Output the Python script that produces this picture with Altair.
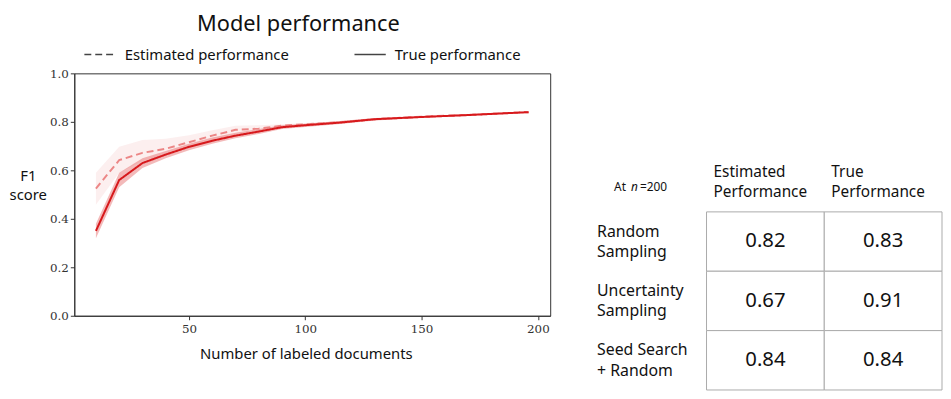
import altair as alt
import pandas as pd

# ---- line chart data ----
n_docs = [10, 20, 30, 40, 50, 60, 70, 80, 90, 100, 115, 130, 150, 170, 196]
true_mean = [0.35, 0.56, 0.63, 0.665, 0.697, 0.722, 0.743, 0.760, 0.778, 0.786, 0.797, 0.811, 0.820, 0.828, 0.840]
true_lo = [0.32, 0.53, 0.61, 0.650, 0.683, 0.710, 0.732, 0.750, 0.770, 0.779, 0.791, 0.806, 0.816, 0.825, 0.837]
true_hi = [0.38, 0.59, 0.65, 0.680, 0.710, 0.735, 0.755, 0.770, 0.786, 0.792, 0.803, 0.816, 0.824, 0.831, 0.843]
est_mean = [0.525, 0.642, 0.672, 0.689, 0.716, 0.743, 0.767, 0.772, 0.784, 0.790, 0.798, 0.811, 0.821, 0.829, 0.840]
est_lo = [0.458, 0.590, 0.640, 0.665, 0.695, 0.725, 0.745, 0.760, 0.777, 0.784, 0.793, 0.807, 0.818, 0.826, 0.838]
est_hi = [0.590, 0.697, 0.725, 0.730, 0.745, 0.765, 0.784, 0.786, 0.790, 0.795, 0.803, 0.815, 0.824, 0.832, 0.842]
series_names = ["Estimated performance", "True performance"]
y_ticks = [0.0, 0.2, 0.4, 0.6, 0.8, 1.0]
x_ticks = [50, 100, 150, 200]

# ---- table data ----
row_labels = ["Random\nSampling", "Uncertainty\nSampling", "Seed Search\n+ Random"]
col_labels = ["Estimated\nPerformance", "True\nPerformance"]
est_at_200 = [0.82, 0.67, 0.84]
true_at_200 = [0.83, 0.91, 0.84]

SANS = "Noto Sans"
SERIF = "DejaVu Serif"
RED = "#d7191c"

band_df = pd.DataFrame({"n": n_docs, "true_lo": true_lo, "true_hi": true_hi,
                        "est_lo": est_lo, "est_hi": est_hi})
line_df = pd.concat([
    pd.DataFrame({"n": n_docs, "score": est_mean, "series": series_names[0]}),
    pd.DataFrame({"n": n_docs, "score": true_mean, "series": series_names[1]}),
])

x_enc = alt.X("n:Q", scale=alt.Scale(domain=[0.7, 205.3], nice=False, zero=False),
              axis=alt.Axis(values=x_ticks, title="Number of labeled documents", grid=False,
                            labelFont=SERIF, labelFontSize=12, labelColor="#333", labelPadding=4,
                            tickSize=4, tickColor="#333", domainColor="#333",
                            titleFont=SANS, titleFontSize=15, titleFontWeight="normal",
                            titleColor="#111", titlePadding=12, titleX=234))
y_scale = alt.Scale(domain=[0, 1], nice=False)
y_axis = alt.Axis(values=y_ticks, format=".1f", title=["F1", "score"], grid=False,
                  labelFont=SERIF, labelFontSize=12, labelColor="#333",
                  tickSize=4, tickColor="#333", domainColor="#333",
                  titleFont=SANS, titleFontSize=15, titleFontWeight="normal", titleColor="#111",
                  titleAngle=0, titleAlign="center", titleBaseline="middle",
                  titleX=-47, titleY=103, titleLineHeight=20)

dash_scale = alt.Scale(domain=series_names, range=[[7, 4], [1, 0]])
dash_legend = alt.Legend(title=None, orient="none", legendX=9, legendY=-36,
                         direction="horizontal", symbolType="stroke",
                         symbolSize=1000, symbolStrokeWidth=1.6,
                         symbolStrokeColor="#444", labelFont=SANS,
                         labelFontSize=15, labelColor="#111", labelLimit=0,
                         labelOffset=8, columnPadding=62)

est_band = alt.Chart(band_df).mark_area(color=RED, opacity=0.07).encode(
    x=x_enc, y=alt.Y("est_lo:Q", scale=y_scale, axis=y_axis), y2="est_hi:Q")
true_band = alt.Chart(band_df).mark_area(color=RED, opacity=0.3).encode(
    x=x_enc, y=alt.Y("true_lo:Q", scale=y_scale, axis=y_axis), y2="true_hi:Q")
est_line = alt.Chart(line_df).transform_filter(
    alt.datum.series == series_names[0]).mark_line(strokeWidth=2, color="#ec8686").encode(
    x=x_enc, y=alt.Y("score:Q", scale=y_scale, axis=y_axis),
    strokeDash=alt.StrokeDash("series:N", scale=dash_scale, legend=dash_legend))
true_line = alt.Chart(line_df).transform_filter(
    alt.datum.series == series_names[1]).mark_line(strokeWidth=2, color=RED).encode(
    x=x_enc, y=alt.Y("score:Q", scale=y_scale, axis=y_axis),
    strokeDash=alt.StrokeDash("series:N", scale=dash_scale, legend=dash_legend))

left = alt.layer(est_band, true_band, est_line, true_line).properties(
    width=481, height=245,
    title=alt.TitleParams("Model performance", font=SANS, fontSize=22, fontWeight="normal",
                          color="#111", frame="group", dx=-14, offset=32),
)

# ---- table chart ----
cells = []
for r in range(3):
    cells.append({"r": r, "c": 0, "v": est_at_200[r]})
    cells.append({"r": r, "c": 1, "v": true_at_200[r]})
cell_df = pd.DataFrame(cells)
row_df = pd.DataFrame({"r": list(range(3)), "label": row_labels})
col_df = pd.DataFrame({"c": list(range(2)), "label": col_labels})

tx = alt.Scale(domain=[-1, 2], nice=False, zero=False)
ty = alt.Scale(domain=[-2.3333, 3], nice=False, zero=False, reverse=True)

rects = alt.Chart(cell_df).mark_rect(fill="white", stroke="#aaaaaa", strokeWidth=1).transform_calculate(
    c2="datum.c + 1", r2="datum.r + 1").encode(
    x=alt.X("c:Q", scale=tx, axis=None), x2="c2:Q",
    y=alt.Y("r:Q", scale=ty, axis=None), y2="r2:Q")
vals = alt.Chart(cell_df).mark_text(font=SANS, fontSize=20.5, color="#111").transform_calculate(
    cx="datum.c + 0.5", cy="datum.r + 0.5").encode(
    x=alt.X("cx:Q", scale=tx, axis=None), y=alt.Y("cy:Q", scale=ty, axis=None),
    text=alt.Text("v:Q", format=".2f"))
rows_txt = alt.Chart(row_df).mark_text(font=SANS, fontSize=16, color="#111", align="left",
                                       baseline="middle", lineBreak="\n", lineHeight=20.5).transform_calculate(
    lx="-0.93", cy="datum.r + 0.333").encode(
    x=alt.X("lx:Q", scale=tx, axis=None), y=alt.Y("cy:Q", scale=ty, axis=None), text="label:N")
cols_txt = alt.Chart(col_df).mark_text(font=SANS, fontSize=15.5, color="#111", align="left",
                                       baseline="middle", lineBreak="\n", lineHeight=20).transform_calculate(
    lx="datum.c + 0.06", cy="-0.667").encode(
    x=alt.X("lx:Q", scale=tx, axis=None), y=alt.Y("cy:Q", scale=ty, axis=None), text="label:N")
hdr_df = pd.DataFrame({"t": ["At", "n", "=200"], "hx": [-0.785, -0.641, -0.566],
                       "style": ["normal", "italic", "normal"]})
hdr_normal = alt.Chart(hdr_df).transform_filter("datum.style == 'normal'").mark_text(
    font=SANS, fontSize=12, color="#111", align="left", baseline="middle").transform_calculate(
    cy="-0.42").encode(x=alt.X("hx:Q", scale=tx, axis=None), y=alt.Y("cy:Q", scale=ty, axis=None), text="t:N")
hdr_italic = alt.Chart(hdr_df).transform_filter("datum.style == 'italic'").mark_text(
    font=SANS, fontSize=12, fontStyle="italic", color="#111", align="left", baseline="middle").transform_calculate(
    cy="-0.42").encode(x=alt.X("hx:Q", scale=tx, axis=None), y=alt.Y("cy:Q", scale=ty, axis=None), text="t:N")

table = alt.layer(rects, vals, rows_txt, cols_txt, hdr_normal, hdr_italic).properties(
    width=357, height=320, view=alt.ViewBackground(stroke=None))

chart = alt.hconcat(left, table, spacing=38).configure(
    padding={"top": 2, "left": 0, "right": 0, "bottom": 0}).configure_view(stroke="#333")

chart.save("out.html", embed_options={"renderer": "svg", "actions": False})
